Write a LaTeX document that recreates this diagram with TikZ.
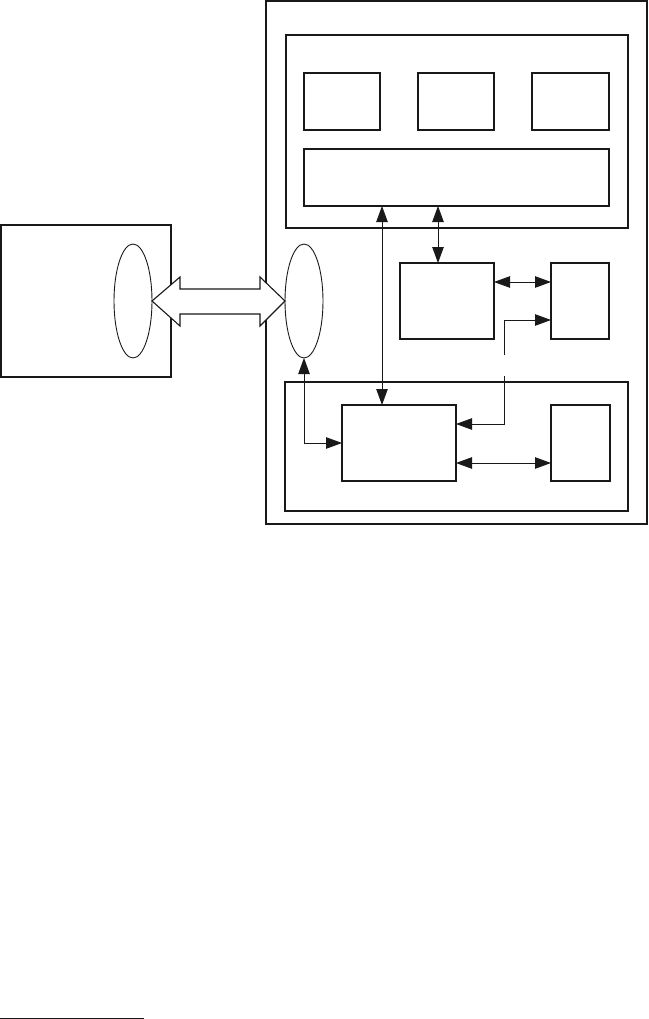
\documentclass[tikz,border=0pt]{standalone}
\usepackage{tikz}
\usetikzlibrary{positioning, shapes.geometric, arrows.meta}
\colorlet{rule}{black!90}
\tikzset{
  card/.style   ={draw=rule, line width=1.3pt, inner sep=0pt, outer sep=0pt},
  frame/.style  ={card, line width=1.2pt},
  port/.style   ={draw=rule, ellipse, line width=0.9pt, inner sep=0pt,
                  outer sep=0pt, minimum width=38pt, minimum height=114pt},
  link/.style   ={rule, line width=0.8pt,
                  arrows={Triangle[length=16pt, width=11.5pt]-Triangle[length=16pt, width=11.5pt]}},
  onelink/.style={rule, line width=0.8pt, -{Triangle[length=16pt, width=11.5pt]}},
  wire/.style   ={rule, line width=0.8pt},
  pipe/.style   ={draw=rule, fill=white, line width=1.1pt, line join=miter},
}

\begin{document}
\begin{tikzpicture}[x=1pt, y=-1pt]
\useasboundingbox (0,0) rectangle (648,1019);

% remote side
\node[card, minimum width=170pt, minimum height=152pt] (host) at (86,301) {};
\node[port] (hostport) at (133,301) {};

% local side
\node[frame, minimum width=381pt, minimum height=523pt] (outer) at (456.5,262.5) {};
\node[port] (nodeport) at (304,301) {};

% upper group
\node[frame, minimum width=342pt, minimum height=193pt] (upper) at (457,131.5) {};
\node[card, minimum width=76pt, minimum height=57pt] (appA) at (342,101.5) {};
\node[card, minimum width=76pt, minimum height=57pt] (appB) at (456,101.5) {};
\node[card, minimum width=77pt, minimum height=57pt] (appC) at (570.5,101.5) {};
\node[card, minimum width=305pt, minimum height=57pt] (bus) at (456.5,177.5) {};

% middle row
\node[card, minimum width=94pt, minimum height=76pt] (ctrl) at (447,301) {};
\node[card, minimum width=58pt, minimum height=76pt] (store) at (580,301) {};

% lower group
\node[frame, minimum width=343pt, minimum height=129pt] (lower) at (456.5,446.5) {};
\node[card, minimum width=114pt, minimum height=76pt] (link) at (399,443) {};
\node[card, minimum width=59pt, minimum height=76pt] (phy) at (580.5,443) {};

% wide double arrow between the ports
\draw[pipe] (hostport.east) -- ++(28,-24) -- ++(0,12)
  -- ([xshift=-25pt, yshift=12pt]nodeport.west) -- ++(0,-12)
  -- (nodeport.west) -- ++(-25,25) -- ++(0,-12)
  -- ([xshift=28pt, yshift=-13pt]hostport.east) -- ++(0,12) -- cycle;

% connectors
\draw[link] ([xshift=-17pt]link.north) -- ([xshift=-17pt]link.north |- bus.south);
\draw[link] ([xshift=-9pt]ctrl.north) -- ([xshift=-9pt]ctrl.north |- bus.south);
\draw[link] ([yshift=19pt]ctrl.east) -- ([yshift=19pt]ctrl.east -| store.west);
\draw[link] ([yshift=-20pt]link.east) -- ([yshift=-20pt]link.east -| phy.west);
\draw[link] (nodeport.south) |- (link.west);

\coordinate (gapL) at (504,376);
\coordinate (gapU) at (504,355);
\draw[onelink] (gapL) |- ([yshift=19pt]link.east);
\draw[onelink] (gapU) |- ([yshift=-19pt]store.west);

% footnote rule
\coordinate (fnA) at (0,1018);
\coordinate (fnB) at (144,1018);
\draw[wire] (fnA) -- (fnB);

\end{tikzpicture}
\end{document}
